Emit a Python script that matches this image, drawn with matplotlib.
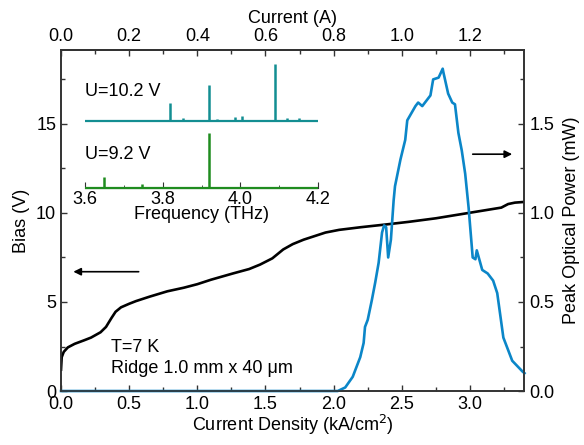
import matplotlib
matplotlib.use('Agg')
import matplotlib.pyplot as plt
from matplotlib.ticker import MultipleLocator

plt.rcParams['font.family'] = ['Liberation Sans', 'DejaVu Sans']
plt.rcParams['font.size'] = 13

# --- data ---
# bias vs current density (kA/cm^2, V)
j_bias = [0.0, 0.005, 0.02, 0.05, 0.1, 0.17, 0.22, 0.29, 0.33, 0.37, 0.40, 0.44,
          0.50, 0.55, 0.65, 0.78, 0.9, 1.0, 1.1, 1.26, 1.38, 1.46, 1.55, 1.63, 1.7,
          1.78, 1.86, 1.94, 2.04, 2.2, 2.38, 2.55, 2.75, 2.99, 3.15, 3.23, 3.28,
          3.33, 3.4]
bias = [1.2, 1.9, 2.2, 2.45, 2.65, 2.85, 3.0, 3.3, 3.6, 4.1, 4.45, 4.7,
        4.9, 5.05, 5.3, 5.6, 5.8, 6.0, 6.25, 6.6, 6.85, 7.1, 7.45, 7.95, 8.25,
        8.5, 8.7, 8.9, 9.05, 9.2, 9.35, 9.5, 9.7, 10.0, 10.2, 10.3, 10.5,
        10.58, 10.62]

# peak optical power vs current density (kA/cm^2, mW)
j_power = [0.0, 2.03, 2.085, 2.14, 2.195, 2.22, 2.23, 2.25, 2.28, 2.305, 2.33, 2.355,
           2.37, 2.385, 2.40, 2.42, 2.44, 2.45, 2.49, 2.525, 2.54, 2.60, 2.62, 2.65,
           2.67, 2.71, 2.73, 2.77, 2.80, 2.805, 2.84, 2.87, 2.89, 2.915, 2.94, 2.965,
           2.99, 3.02, 3.04, 3.05, 3.09, 3.13, 3.17, 3.20, 3.245, 3.31, 3.385, 3.40]
power = [0.0, 0.0, 0.02, 0.08, 0.19, 0.27, 0.36, 0.40, 0.51, 0.61, 0.72, 0.89,
         0.93, 0.92, 0.75, 0.85, 1.07, 1.15, 1.30, 1.41, 1.52, 1.60, 1.62, 1.60,
         1.62, 1.66, 1.75, 1.76, 1.81, 1.79, 1.67, 1.62, 1.61, 1.45, 1.35, 1.22,
         1.03, 0.75, 0.74, 0.79, 0.68, 0.66, 0.62, 0.55, 0.30, 0.17, 0.11, 0.10]

# inset spectra: peak frequencies (THz) and relative heights
freq_102 = [3.70, 3.818, 3.853, 3.887, 3.92, 3.941, 3.987, 4.004, 4.088, 4.12, 4.151]
amp_102 = [0.005, 0.14, 0.02, 0.01, 0.28, 0.015, 0.03, 0.04, 0.445, 0.02, 0.02]
freq_92 = [3.65, 3.748, 3.78, 3.82, 3.853, 3.92]
amp_92 = [0.086, 0.03, 0.01, 0.006, 0.01, 0.43]
offset_102 = 0.523

area_cm2 = 0.4  # A per kA/cm^2 (1.0 mm x 40 um)

C_BLUE = '#0b86c8'
C_TEAL = '#138e92'
C_GREEN = '#1f8c1f'
C_AX = '#333333'

fig = plt.figure(figsize=(5.84, 4.45), dpi=100)
ax = fig.add_axes([0.1045, 0.1213, 0.7936, 0.7663])
ax2 = ax.twinx()

ax.plot(j_bias, bias, color='black', lw=1.9, zorder=3)
ax2.plot(j_power, power, color=C_BLUE, lw=1.9, clip_on=False)

ax.set_xlim(0, 3.4)
ax.set_ylim(0, 19.15)
ax2.set_ylim(0, 1.915)

ax.xaxis.set_major_locator(MultipleLocator(0.5))
ax.xaxis.set_minor_locator(MultipleLocator(0.25))
ax.yaxis.set_major_locator(MultipleLocator(5))
ax.yaxis.set_minor_locator(MultipleLocator(2.5))
ax2.yaxis.set_major_locator(MultipleLocator(0.5))
ax2.yaxis.set_minor_locator(MultipleLocator(0.25))
ax.yaxis.set_major_formatter(lambda v, p: f'{v:.0f}')
ax.xaxis.set_major_formatter(lambda v, p: f'{v:.1f}')
ax2.yaxis.set_major_formatter(lambda v, p: f'{v:.1f}')

top = ax.secondary_xaxis('top', functions=(lambda j: j * area_cm2, lambda a: a / area_cm2))
top.xaxis.set_major_locator(MultipleLocator(0.2))
top.xaxis.set_minor_locator(MultipleLocator(0.1))
top.xaxis.set_major_formatter(lambda v, p: f'{v:.1f}')
top.set_xlabel('Current (A)', labelpad=4)

for a in (ax, ax2, top):
    a.tick_params(which='both', direction='in', color=C_AX, labelsize=13)
    a.tick_params(which='major', length=4, width=1)
    a.tick_params(which='minor', length=3, width=1)
    for s in a.spines.values():
        s.set_color(C_AX)
        s.set_linewidth(1.2)

ax.set_xlabel('Current Density (kA/cm$^2$)', labelpad=0)
ax.set_ylabel('Bias (V)', labelpad=4)
ax2.set_ylabel('Peak Optical Power (mW)', labelpad=6)

arrow_kw = dict(arrowstyle='-|>', color='black', lw=1.2, mutation_scale=11)
ax.annotate('', xy=(0.07, 6.7), xytext=(0.59, 6.7), arrowprops=arrow_kw)
ax2.annotate('', xy=(3.33, 1.33), xytext=(3.0, 1.33), arrowprops=arrow_kw)

ax.text(0.37, 2.45, 'T=7 K', fontsize=13, va='center')
ax.text(0.37, 1.25, 'Ridge 1.0 mm x 40 \u03bcm', fontsize=13, va='center')

# --- inset spectra ---
ins = fig.add_axes([85 / 584, (445 - 188) / 445, 233 / 584, 128 / 445])
ins.patch.set_alpha(0)
ins.hlines(offset_102, 3.6, 4.2, color=C_TEAL, lw=1.6)
ins.vlines(freq_102, offset_102, [offset_102 + a for a in amp_102], color=C_TEAL, lw=1.8)
ins.hlines(0, 3.6, 4.2, color=C_GREEN, lw=1.6, zorder=3, clip_on=False)
ins.vlines(freq_92, 0, amp_92, color=C_GREEN, lw=1.8)
ins.set_xlim(3.6, 4.2)
ins.set_ylim(0, 1.0)
ins.set_yticks([])
for s in ('top', 'left', 'right'):
    ins.spines[s].set_visible(False)
ins.spines['bottom'].set_color(C_AX)
ins.xaxis.set_major_locator(MultipleLocator(0.2))
ins.xaxis.set_minor_locator(MultipleLocator(0.1))
ins.xaxis.set_major_formatter(lambda v, p: f'{v:.1f}')
ins.tick_params(which='both', direction='in', color=C_AX, labelsize=13, pad=2)
ins.tick_params(which='major', length=4)
ins.tick_params(which='minor', length=2)
ins.set_xlabel('Frequency (THz)', labelpad=-1)
ins.text(3.6, 0.75, 'U=10.2 V', fontsize=13, va='center')
ins.text(3.6, 0.26, 'U=9.2 V', fontsize=13, va='center')

fig.savefig('out.png', dpi=100)
